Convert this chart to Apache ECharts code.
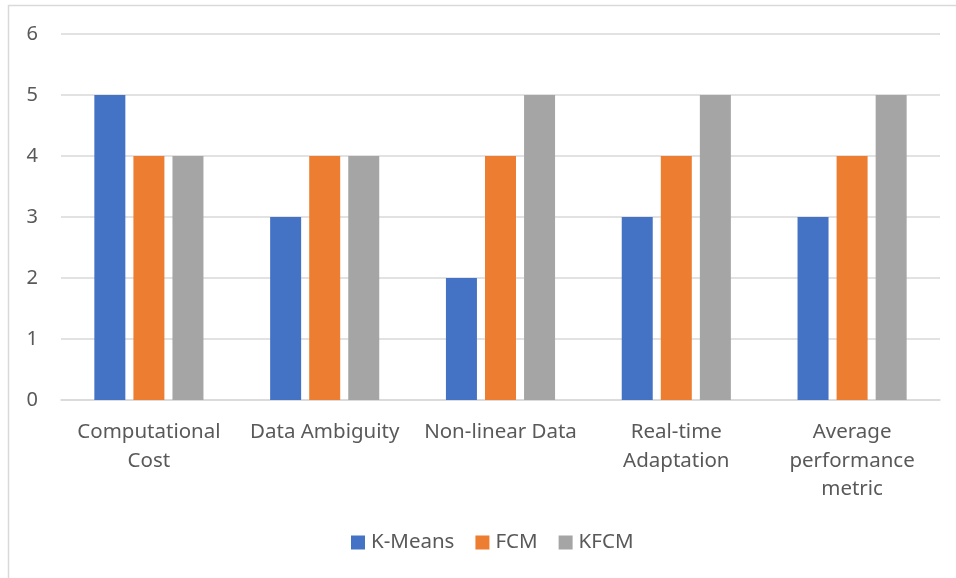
<!DOCTYPE html>
<html>
<head>
<meta charset="utf-8">
<script src="https://cdn.jsdelivr.net/npm/echarts@6/dist/echarts.min.js"></script>
<style>
  html, body { margin: 0; padding: 0; background: #fff; }
  #chart { width: 956px; height: 578px; }
</style>
</head>
<body>
<div id="chart"></div>
<script>
const categories = ['Computational\nCost', 'Data Ambiguity', 'Non-linear Data', 'Real-time\nAdaptation', 'Average\nperformance\nmetric']
const kMeans = [5, 3, 2, 3, 3]
const fcm = [4, 4, 4, 4, 4]
const kfcm = [4, 4, 5, 5, 5]
const yTicks = [0, 1, 2, 3, 4, 5, 6]

const textColor = '#595959'
const font = 'Noto Sans'

const chart = echarts.init(document.getElementById('chart'))

const barSeries = (name, data, color) => ({
  name: name,
  type: 'bar',
  data: data,
  barWidth: 31,
  barGap: '26%',
  itemStyle: { color: color }
})

chart.setOption({
  animation: false,
  backgroundColor: '#fff',
  graphic: [{
    type: 'rect',
    shape: { x: 8.5, y: 5.5, width: 1200, height: 1200 },
    style: { fill: 'none', stroke: '#d9d9d9', lineWidth: 1.5 },
    silent: true
  }],
  grid: { left: 61, right: 16, top: 34, bottom: 178 },
  legend: {
    bottom: 20,
    left: 346,
    itemWidth: 14,
    itemHeight: 14,
    itemGap: 21,
    icon: 'rect',
    textStyle: { color: textColor, fontSize: 20.5, fontFamily: font, padding: [0, 0, 0, 1] },
    data: ['K-Means', 'FCM', 'KFCM']
  },
  xAxis: {
    type: 'category',
    data: categories,
    axisLine: { lineStyle: { color: '#d9d9d9', width: 1.5 } },
    axisTick: { show: false },
    axisLabel: {
      color: textColor,
      fontSize: 20.5,
      fontFamily: font,
      lineHeight: 28.5,
      margin: 18,
      interval: 0
    }
  },
  yAxis: {
    type: 'value',
    min: 0,
    max: yTicks[yTicks.length - 1],
    interval: 1,
    axisLine: { show: false },
    axisTick: { show: false },
    splitLine: { lineStyle: { color: '#d9d9d9', width: 1.5 } },
    axisLabel: { color: textColor, fontSize: 20, fontFamily: font, margin: 23 }
  },
  series: [
    barSeries('K-Means', kMeans, '#4472C4'),
    barSeries('FCM', fcm, '#ED7D31'),
    barSeries('KFCM', kfcm, '#A5A5A5')
  ]
})
</script>
</body>
</html>
